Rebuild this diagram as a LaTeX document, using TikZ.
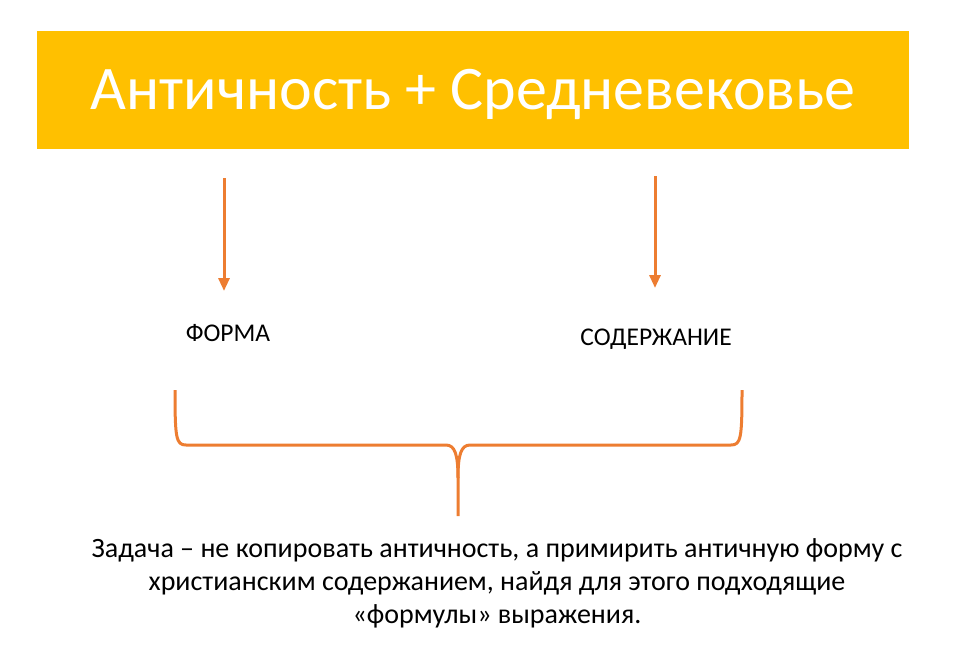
\documentclass[tikz,border=0pt]{standalone}
\usepackage{fontspec}
\setmainfont{Carlito}
\usetikzlibrary{arrows.meta}
\definecolor{titleyellow}{HTML}{FFC000}
\definecolor{accentorange}{HTML}{ED7D31}
\begin{document}
\begin{tikzpicture}[x=1pt,y=-1pt,
  titlebox/.style={fill=titleyellow,draw=none,minimum width=872pt,minimum height=118pt,inner sep=0pt,text=white,font=\fontsize{62}{70}\selectfont},
  label/.style={font=\fontsize{25.5}{30}\selectfont,anchor=base,inner sep=0pt},
  tasktext/.style={font=\fontsize{28}{34}\selectfont,anchor=base,inner sep=0pt},
  downarrow/.style={draw=accentorange,line width=3pt,-{Triangle[length=13pt,width=11pt]}},
  bracepath/.style={draw=accentorange,line width=3pt,line join=round}]
\useasboundingbox (0,0) rectangle (969,670);
\node[titlebox] (title) at (473,90) {\raisebox{-4pt}[\height][\depth]{Античность + Средневековье}};
\coordinate (la0) at (224,178);
\coordinate (la1) at (224,291);
\coordinate (ra0) at (655,176);
\coordinate (ra1) at (655,288);
\draw[downarrow] (la0) -- (la1);
\draw[downarrow] (ra0) -- (ra1);
\node[label] (forma) at (228,341) {ФОРМА};
\node[label] (soderzh) at (656,345) {СОДЕРЖАНИЕ};
\coordinate (bl) at (175,390);
\coordinate (br) at (742,390);
\coordinate (bm) at (458,478);
\coordinate (bt) at (458,516);
\draw[bracepath] (bl) .. controls (175,438) and (176,445) .. (186,445) -- (446,445) .. controls (455,445) and (458,455) .. (bm) -- (bt);
\draw[bracepath] (bm) .. controls (458,455) and (461,445) .. (470,445) -- (731,445) .. controls (741,445) and (742,438) .. (br);
\node[tasktext] (task1) at (497,557) {Задача – не копировать античность, а примирить античную форму с};
\node[tasktext] (task2) at (497,590) {христианским содержанием, найдя для этого подходящие};
\node[tasktext] (task3) at (497,623) {«формулы» выражения.};
\end{tikzpicture}
\end{document}
